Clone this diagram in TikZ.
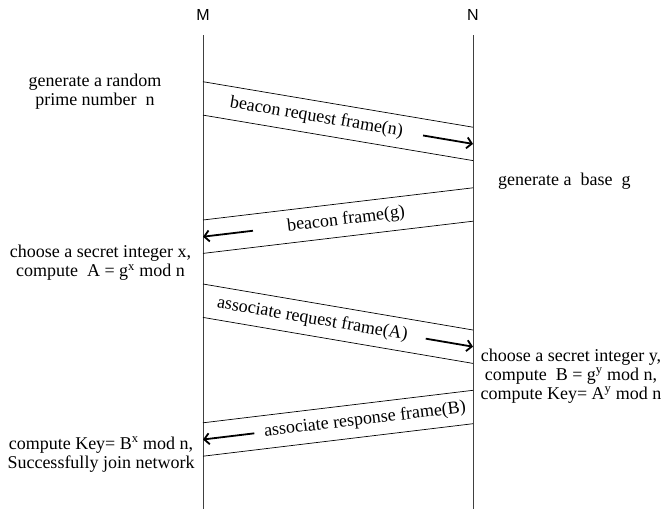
\documentclass[tikz,border=0pt]{standalone}
\usepackage{fontspec}
\setmainfont{Liberation Serif}
\newfontfamily\actorfont{Liberation Sans}
\usetikzlibrary{calc,arrows.meta}
\tikzset{
  life/.style={line width=0.8pt, black!75},
  band/.style={line width=0.7pt},
  msgarrow/.style={line width=1.8pt, -{Straight Barb[length=5pt,width=11pt]}},
  actor/.style={font=\actorfont\fontsize{16}{18}\selectfont},
  note/.style={font=\fontsize{18}{19}\selectfont, align=center, inner sep=0pt},
  msglabel/.style={font=\fontsize{18}{19}\selectfont, sloped, inner sep=0pt}
}

\begin{document}
\begin{tikzpicture}[x=1pt,y=-1pt]
  \useasboundingbox (0,0) rectangle (663,509);
  \node[actor] (M) at (203,15) {M};
  \node[actor] (N) at (473,15) {N};
  \coordinate (Mtop) at (203,35);
  \coordinate (Mend) at (203,509);
  \coordinate (Ntop) at (473,35);
  \coordinate (Nend) at (473,509);
  \draw[life] (Mtop) -- (Mend);
  \draw[life] (Ntop) -- (Nend);
  \foreach \i/\ym/\yn in {1/98.4/143.9, 2/236.7/204.5, 3/300.7/346.7, 4/439.5/407}{
    \coordinate (m\i) at (203,\ym);
    \coordinate (n\i) at (473,\yn);
    \draw[band] ($(m\i)+(0,-16.7)$) -- ($(n\i)+(0,-16.7)$);
    \draw[band] ($(m\i)+(0,16.7)$) -- ($(n\i)+(0,16.7)$);
  }
  \path (m1) -- (n1) node[msglabel, pos=0.42] (req) {beacon request frame(n)};
  \path (n2) -- (m2) node[msglabel, pos=0.47] (bcn) {beacon frame(g)};
  \path (m3) -- (n3) node[msglabel, pos=0.405] (assoc) {associate request frame(A)};
  \path (n4) -- (m4) node[msglabel, pos=0.40] (resp) {associate response frame(B)};
  \draw[msgarrow] ($(m1)!0.815!(n1)$) -- (n1);
  \draw[msgarrow] ($(n2)!0.815!(m2)$) -- (m2);
  \draw[msgarrow] ($(m3)!0.825!(n3)$) -- (n3);
  \draw[msgarrow] ($(n4)!0.81!(m4)$) -- (m4);
  \node[note] (primeN) at (95,91.6) {generate a random\\prime number~~n};
  \node[note, anchor=west] (baseG) at (498,181) {generate a~~base~~g};
  \node[note] (secretX) at (100.5,263) {choose a secret integer x,\\compute~~A = g\textsuperscript{x} mod n};
  \node[note] (secretY) at (571,375.7) {choose a secret integer y,\\compute~~B = g\textsuperscript{y} mod n,\\compute Key= A\textsuperscript{y} mod n};
  \node[note] (keyM) at (101,454.4) {compute Key= B\textsuperscript{x} mod n,\\Successfully join network};
\end{tikzpicture}
\end{document}
